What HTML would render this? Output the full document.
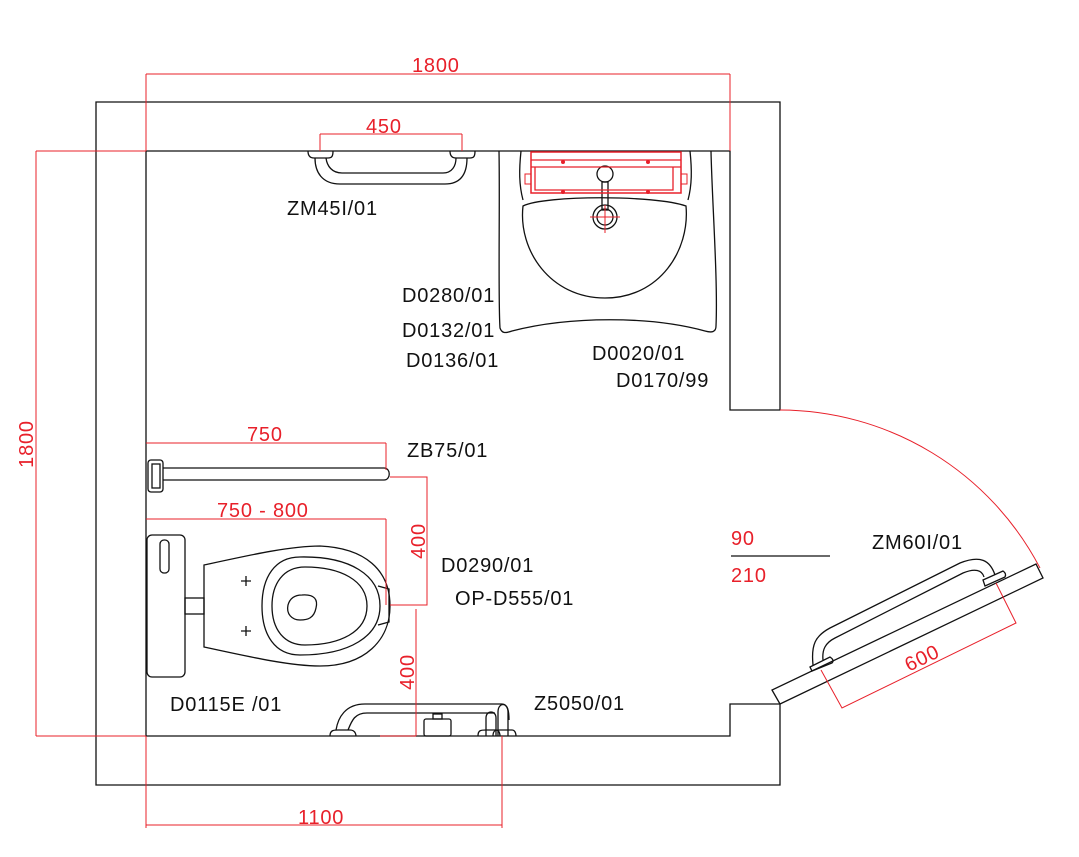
<!DOCTYPE html>
<html><head><meta charset="utf-8"><style>
html,body{margin:0;padding:0;background:#fff;}
svg{display:block}
text{font-family:"Liberation Sans",sans-serif;}
.k{fill:#111;font-size:20px;letter-spacing:0.8px}
.r{fill:#e8202a;font-size:20px;letter-spacing:0.8px}
</style></head><body>
<svg width="1079" height="857" viewBox="0 0 1079 857" xmlns="http://www.w3.org/2000/svg">
<g fill="none" stroke="#111" stroke-width="1.3">
<path d="M780,410 L780,102 L96,102 L96,785 L780,785 L780,704 L730,704 L730,736 L146,736 L146,151 L730,151 L730,410 Z"/>
<path d="M772,690 L780,704 L1043,578 L1036,564 Z"/>
<path d="M499,151 C500,200 498,300 500,328 C502,334 506,333 512,331 C570,316 650,316 705,331 C712,333 716,332 716,326 C718,280 712,200 711,151"/>
<path d="M521,151 C519,170 519,185 523,200"/>
<path d="M690,151 C692,170 692,185 688,200"/>
<path d="M523,206 C545,195 655,195 686,206 C690,250 660,298 605,298 C550,298 518,250 523,206 Z"/>
<circle cx="605" cy="217" r="12"/><circle cx="605" cy="217" r="8"/>
<rect x="602" y="182" width="6" height="28"/>
<circle cx="605" cy="174" r="8"/>
<path d="M315,158 C315,172 322,184 340,184 L445,184 C462,184 467,172 467,158"/>
<path d="M326,158 C327,166 332,173 342,173 L443,173 C452,173 456,166 456,158"/>
<path d="M308,151 C308,156 310,158 314,158 L328,158 C332,158 333,156 333,151"/>
<path d="M450,151 C450,156 452,158 456,158 L470,158 C474,158 475,156 475,151"/>
<rect x="148" y="460" width="15" height="32" rx="3"/>
<rect x="152" y="464" width="8" height="24"/>
<path d="M163,468 L384,468 C391,468 391,480 384,480 L163,480"/>
<rect x="147" y="535" width="38" height="142" rx="5"/>
<rect x="160" y="540" width="9" height="33" rx="4"/>
<rect x="185" y="598" width="19" height="16"/>
<path d="M204,565 C250,555 290,546 320,546 C365,548 390,570 390,606 C390,640 365,666 320,666 C290,666 250,657 204,647 Z"/>
<path d="M300,557 C350,556 380,575 380,606 C380,636 350,655 300,655 C275,655 262,635 262,606 C262,577 275,557 300,557 Z"/>
<path d="M305,567 C340,567 367,580 367,606 C367,632 340,645 305,645 C283,645 272,628 272,606 C272,584 283,567 305,567 Z"/>
<path d="M302,595 C315,594 318,600 316,608 C314,618 308,620 300,620 C292,620 286,614 288,605 C290,598 295,595 302,595 Z"/>
<path d="M378,586 L389,589 L389,622 L378,625"/>
<path d="M246,576 v10 M241,581 h10 M246,626 v10 M241,631 h10"/>
<path d="M330,736 C330,730 334,730 338,730 L350,730 C356,730 356,736 356,736"/>
<path d="M336,730 C338,718 345,704 365,704 L502,704 C508,704 509,712 509,720"/>
<path d="M348,730 C352,720 355,713 367,713 L495,713"/>
<rect x="424" y="719" width="27" height="17" rx="2"/>
<rect x="433" y="714" width="9" height="5"/>
<path d="M486,736 L486,718 C486,710 496,710 496,718 L496,736"/>
<path d="M498,736 L498,712 C498,702 508,702 508,712 L508,736"/>
<path d="M478,736 C478,730 481,730 486,730 L496,730 C500,730 500,736 500,736"/>
<path d="M493,736 C493,730 496,730 500,730 L512,730 C516,730 516,736 516,736"/>
<path d="M813,665 C811,645 815,636 830,628 L960,563 C980,555 990,560 995,575"/>
<path d="M823,660 C822,650 825,643 835,638 L963,573 C975,568 982,570 984,577"/>
<path d="M810,667 L830,657 C833,659 834,661 832,663 L812,671 Z"/>
<path d="M983,580 L1003,571 C1006,573 1006,575 1005,577 L985,586 Z"/>
<path d="M731,556 L830,556"/>
</g>
<g fill="none" stroke="#e8202a" stroke-width="1">
<path d="M146,74 L730,74 M146,74 V151 M730,74 V151"/>
<path d="M36,151 V736 M36,151 H146 M36,736 H146"/>
<path d="M146,825 H502 M146,736 V828 M502,736 V828"/>
<path d="M320,134 H462 M320,134 V151 M462,134 V151"/>
<path d="M146,443 H386 M386,443 V470"/>
<path d="M146,519 H386 M386,519 V605"/>
<path d="M390,477 H427 V605 H390"/>
<path d="M416,609 V736 M380,736 H416"/>
<path d="M780,410 A294,294 0 0 1 1040,568"/>
<path d="M821,670 L842,708 L1016,623 L996,583"/>
<rect x="531" y="152" width="150" height="41" stroke-width="1.5"/>
<path d="M531,160 H681 M531,167 H681 M535,167 V190 H673 V167" stroke-width="1.3"/>
<rect x="525" y="174" width="6" height="10"/><rect x="681" y="174" width="6" height="10"/>
<path d="M605,205 V233 M590,217 H620"/>
</g>
<g fill="#e8202a">
<circle cx="563" cy="162" r="2"/><circle cx="648" cy="162" r="2"/>
<circle cx="563" cy="192" r="2"/><circle cx="648" cy="192" r="2"/>
</g>
<g class="r">
<text x="412" y="72">1800</text>
<text x="366" y="133">450</text>
<text x="247" y="441">750</text>
<text x="217" y="517">750 - 800</text>
<text x="298" y="824">1100</text>
<text x="731" y="545">90</text>
<text x="731" y="582">210</text>
<text transform="translate(33,444) rotate(-90)" text-anchor="middle">1800</text>
<text transform="translate(425,541) rotate(-90)" text-anchor="middle">400</text>
<text transform="translate(414,672) rotate(-90)" text-anchor="middle">400</text>
<text transform="translate(925,664) rotate(-26)" text-anchor="middle">600</text>
</g>
<g class="k">
<text x="287" y="215">ZM45I/01</text>
<text x="402" y="302">D0280/01</text>
<text x="402" y="337">D0132/01</text>
<text x="406" y="367">D0136/01</text>
<text x="592" y="360">D0020/01</text>
<text x="616" y="387">D0170/99</text>
<text x="407" y="457">ZB75/01</text>
<text x="441" y="572">D0290/01</text>
<text x="455" y="605">OP-D555/01</text>
<text x="170" y="711">D0115E /01</text>
<text x="534" y="710">Z5050/01</text>
<text x="872" y="549">ZM60I/01</text>
</g>
</svg>
</body></html>
